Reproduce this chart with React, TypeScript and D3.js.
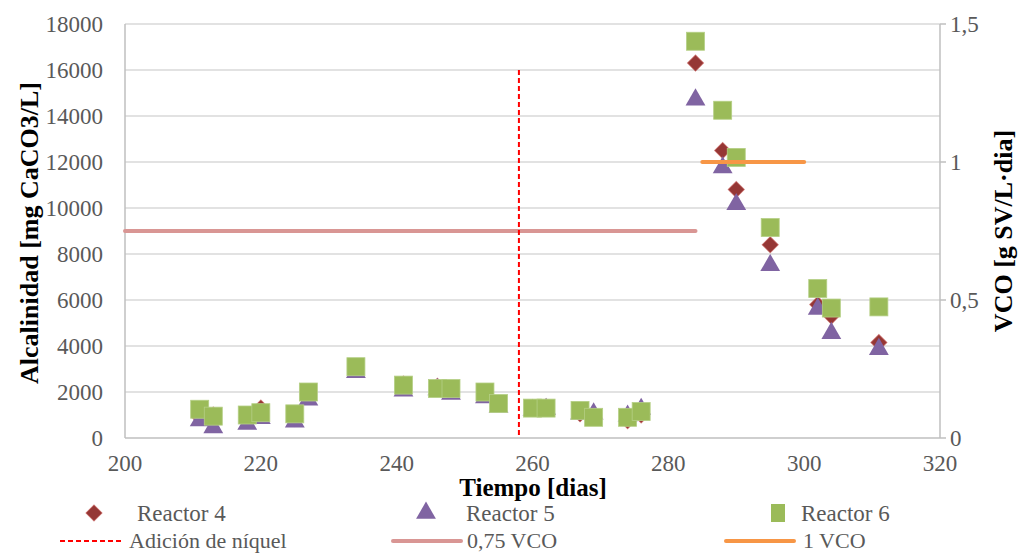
import React from "react";
import * as d3 from "d3";

const days = [211, 213, 218, 220, 225, 227, 234, 241, 246, 248, 253, 255, 260, 262, 267, 269, 274, 276, 284, 288, 290, 295, 302, 304, 311];
const reactor4 = [900, 1000, 900, 1300, 850, 1900, 3000, 2350, 2250, 2100, 1900, 1500, 1300, 1350, 1050, 1000, 750, 1000, 16300, 12500, 10800, 8400, 5800, 5300, 4150];
const reactor5 = [800, 500, 650, 900, 750, 1700, 2900, 2100, 2150, 1950, 1800, 1400, 1250, 1300, 1100, 1100, 1000, 1300, 14750, 11800, 10200, 7550, 5650, 4600, 3900];
const reactor6 = [1250, 950, 1000, 1100, 1050, 2000, 3100, 2300, 2150, 2150, 2000, 1500, 1300, 1300, 1200, 900, 900, 1150, 17250, 14250, 12200, 9150, 6500, 5650, 5700];

const leftTicks = [0, 2000, 4000, 6000, 8000, 10000, 12000, 14000, 16000, 18000];
const rightTicks = [0, 0.5, 1, 1.5];
const rightTickLabels = ["0", "0,5", "1", "1,5"];
const xTicks = [200, 220, 240, 260, 280, 300, 320];

const nickelDay = 258;
const nickelTop = 16000;
const vco075 = { start: 200, end: 284, value: 0.75 };
const vco1 = { start: 285, end: 300, value: 1 };

const W = 1021, H = 553;
const M = { left: 125, right: 940, top: 24, bottom: 438 };
const FONT = '"Liberation Serif", "Times New Roman", "DejaVu Serif", serif';
const TXT = "#595959";

export default function App() {
  const x = d3.scaleLinear().domain([200, 320]).range([M.left, M.right]);
  const y = d3.scaleLinear().domain([0, 18000]).range([M.bottom, M.top]);
  const y2 = d3.scaleLinear().domain([0, 1.5]).range([M.bottom, M.top]);

  const tri = d3.symbol().type(d3.symbolTriangle).size(170)();
  const dia = d3.symbol().type(d3.symbolSquare).size(130)();
  const sq = 18;

  const diamondMark = (cx: number, cy: number, k: string) => (
    <path key={k} d={dia!} transform={`translate(${cx},${cy}) rotate(45)`} fill="#953735" stroke="#c0504d" strokeWidth={1} strokeOpacity={0.6} />
  );
  const triMark = (cx: number, cy: number, k: string) => (
    <path key={k} d={tri!} transform={`translate(${cx},${cy + 1})`} fill="#8064A2" />
  );
  const sqMark = (cx: number, cy: number, k: string) => (
    <rect key={k} x={cx - sq / 2} y={cy - sq / 2} width={sq} height={sq} fill="#9BBB59" stroke="#b5cf85" strokeWidth={0.8} />
  );

  const ts: React.CSSProperties = { fontFamily: FONT };

  return (
    <svg width={W} height={H} style={{ position: "absolute", left: 0, top: 0, background: "#fff", fontFamily: FONT }}>
      {leftTicks.filter(t => t > 0).map(t => (
        <line key={"g" + t} x1={M.left} x2={M.right} y1={y(t)} y2={y(t)} stroke="#d9d9d9" strokeWidth={1.5} />
      ))}
      <line x1={M.left} x2={M.left} y1={M.top} y2={M.bottom} stroke="#bfbfbf" strokeWidth={1.5} />
      <line x1={M.right} x2={M.right} y1={M.top} y2={M.bottom} stroke="#bfbfbf" strokeWidth={1.5} />
      <line x1={M.left} x2={M.right} y1={M.bottom} y2={M.bottom} stroke="#bfbfbf" strokeWidth={1.5} />
      {rightTicks.map(t => (
        <line key={"rt" + t} x1={M.right} x2={M.right + 6} y1={y2(t)} y2={y2(t)} stroke="#bfbfbf" strokeWidth={1.5} />
      ))}
      {leftTicks.map(t => (
        <text key={"lt" + t} style={ts} x={103} y={y(t)} dy="0.35em" textAnchor="end" fontSize={23} fill={TXT}>{t}</text>
      ))}
      {rightTicks.map((t, i) => (
        <text key={"rl" + t} style={ts} x={950} y={y2(t)} dy="0.35em" textAnchor="start" fontSize={23} fill={TXT}>{rightTickLabels[i]}</text>
      ))}
      {xTicks.map(t => (
        <text key={"xt" + t} style={ts} x={x(t)} y={463} dy="0.35em" textAnchor="middle" fontSize={23} fill={TXT}>{t}</text>
      ))}
      <text style={ts} x={533} y={487} dy="0.35em" textAnchor="middle" fontSize={25} fontWeight="bold" fill="#000">Tiempo [dias]</text>
      <text style={ts} transform={`translate(29,233) rotate(-90)`} dy="0.35em" textAnchor="middle" fontSize={26} fontWeight="bold" fill="#000">Alcalinidad [mg CaCO3/L]</text>
      <text style={ts} transform={`translate(1003,231) rotate(-90)`} dy="0.35em" textAnchor="middle" fontSize={26} fontWeight="bold" fill="#000">VCO [g SV/L·dia]</text>

      {days.map((d, i) => diamondMark(x(d), y(reactor4[i]), "r4" + i))}
      {days.map((d, i) => triMark(x(d), y(reactor5[i]), "r5" + i))}
      {days.map((d, i) => sqMark(x(d), y(reactor6[i]), "r6" + i))}

      <line x1={x(vco075.start)} x2={x(vco075.end)} y1={y2(vco075.value)} y2={y2(vco075.value)} stroke="#D99694" strokeWidth={4} strokeLinecap="round" />
      <line x1={x(vco1.start)} x2={x(vco1.end)} y1={y2(vco1.value)} y2={y2(vco1.value)} stroke="#F79646" strokeWidth={4} strokeLinecap="round" />
      <line x1={x(nickelDay)} x2={x(nickelDay)} y1={y(nickelTop)} y2={M.bottom} stroke="#FF0000" strokeWidth={2} strokeDasharray="5,3" />

      {diamondMark(94, 513, "lg4")}
      <text style={ts} x={137} y={513} dy="0.35em" fontSize={23} fill={TXT}>Reactor 4</text>
      {triMark(426, 512, "lg5")}
      <text style={ts} x={466} y={513} dy="0.35em" fontSize={23} fill={TXT}>Reactor 5</text>
      <rect x={778 - 7} y={504} width={14} height={18} fill="#9BBB59" />
      <text style={ts} x={801} y={513} dy="0.35em" fontSize={23} fill={TXT}>Reactor 6</text>

      <line x1={60} x2={124} y1={541} y2={541} stroke="#FF0000" strokeWidth={2} strokeDasharray="5,3" />
      <text style={ts} x={129} y={541} dy="0.33em" fontSize={22} fill={TXT}>Adición de níquel</text>
      <line x1={393} x2={461} y1={541} y2={541} stroke="#D99694" strokeWidth={4} strokeLinecap="round" />
      <text style={ts} x={467} y={541} dy="0.33em" fontSize={22} fill={TXT}>0,75 VCO</text>
      <line x1={726} x2={794} y1={541} y2={541} stroke="#F79646" strokeWidth={4} strokeLinecap="round" />
      <text style={ts} x={803} y={541} dy="0.33em" fontSize={22} fill={TXT}>1 VCO</text>
    </svg>
  );
}
